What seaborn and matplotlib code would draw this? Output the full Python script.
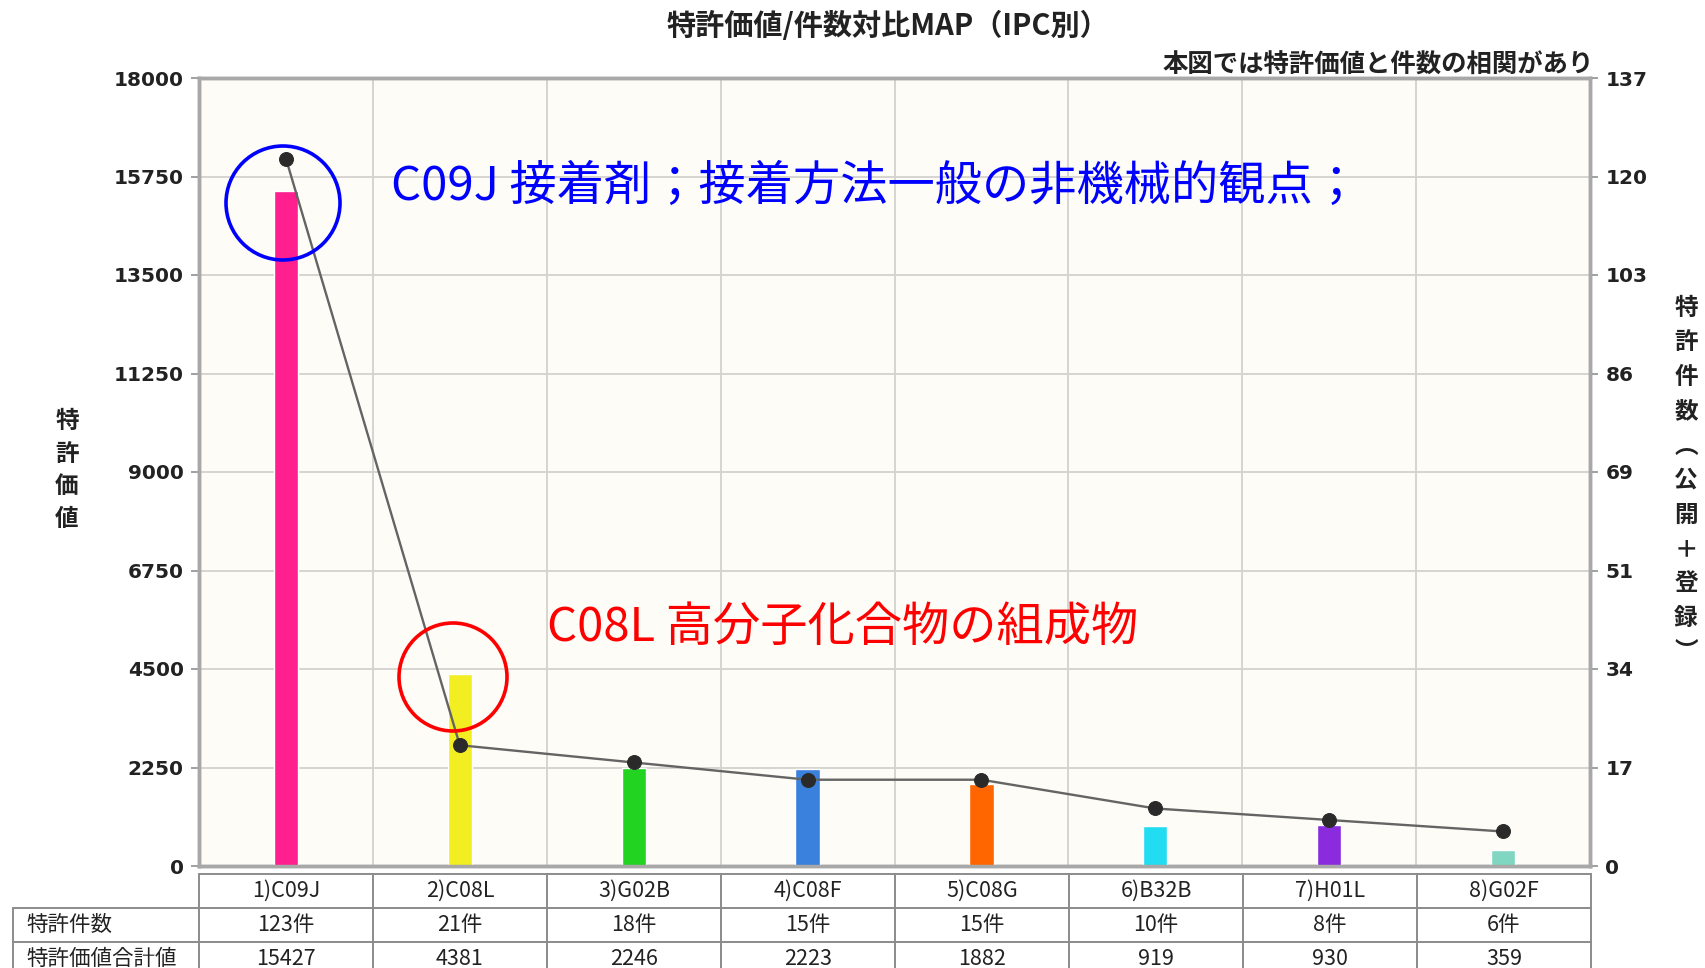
import numpy as np
import matplotlib.pyplot as plt
from matplotlib.patches import Ellipse
import seaborn as sns
import pandas as pd

# ----- DATA -----
codes = ["C09J", "C08L", "G02B", "C08F", "C08G", "B32B", "H01L", "G02F"]
col_labels = ["1)C09J", "2)C08L", "3)G02B", "4)C08F", "5)C08G", "6)B32B", "7)H01L", "8)G02F"]
patent_value = [15427, 4381, 2246, 2223, 1882, 919, 930, 359]
patent_count = [123, 21, 18, 15, 15, 10, 8, 6]
bar_colors = ["#FF1F8E", "#F2EE22", "#22D322", "#3A80DD", "#FF6600", "#22DDF2", "#8A2BDD", "#80D6C0"]
left_ticks = [0, 2250, 4500, 6750, 9000, 11250, 13500, 15750, 18000]
right_labels = ["0", "17", "34", "51", "69", "86", "103", "120", "137"]
right_max = 137

sns.set_theme(style="white")
plt.rcParams['font.family'] = ['Noto Sans CJK JP', 'DejaVu Sans']

W, H = 1705, 968
fig = plt.figure(figsize=(W / 100, H / 100), dpi=100)
fig.patch.set_facecolor("white")

# plot area in pixels: left 199, right 1590, top 78, bottom 866
ax = fig.add_axes([199 / W, 1 - 866 / H, (1590 - 199) / W, (866 - 78) / H])
ax.set_facecolor("#FDFCF7")

df = pd.DataFrame({"code": codes, "value": patent_value, "count": patent_count,
                   "pos": np.arange(len(codes))})

sns.barplot(data=df, x="code", y="value", hue="code", palette=bar_colors,
            width=0.14, saturation=1, legend=False, ax=ax, zorder=3)
ax.set_xlim(-0.5, len(codes) - 0.5)
ax.set_ylim(0, left_ticks[-1])
ax.set_yticks(left_ticks)
ax.set_xticks(np.arange(len(codes) - 1) + 0.5)
ax.set_xticklabels([])
ax.tick_params(axis="x", length=0)
ax.tick_params(axis="y", length=6, width=1.3, color="#999999", pad=5, labelsize=14.5, labelcolor="#222222")
for lbl in ax.get_yticklabels():
    lbl.set_fontfamily("DejaVu Sans")
    lbl.set_fontweight("bold")
ax.grid(True, color="#D6D4D0", lw=1.4)
ax.set_axisbelow(True)
ax.set_xlabel("")
ax.set_ylabel("")
for s in ax.spines.values():
    s.set_color("#A8A8A8")
    s.set_linewidth(2.5)

# ----- line on the right axis -----
ax2 = ax.twinx()
sns.lineplot(data=df, x="pos", y="count", ax=ax2, color="#646464", lw=1.7,
             marker="o", markersize=10, markerfacecolor="#2A2A2A", markeredgecolor="#2A2A2A", zorder=5)
ax2.set_xlim(-0.5, len(codes) - 0.5)
ax2.set_ylim(0, right_max)
ax2.set_yticks(np.linspace(0, right_max, len(right_labels)))
ax2.set_yticklabels(right_labels)
ax2.tick_params(axis="y", length=6, width=1.3, color="#999999", pad=5, labelsize=14.5, labelcolor="#222222")
for lbl in ax2.get_yticklabels():
    lbl.set_fontfamily("DejaVu Sans")
    lbl.set_fontweight("bold")
ax2.set_xlabel("")
ax2.set_ylabel("")
ax2.grid(False)
for s in ax2.spines.values():
    s.set_color("#A8A8A8")
    s.set_linewidth(2.5)

# ----- table under the chart -----
rows = [[""] + col_labels,
        ["特許件数"] + [f"{c}件" for c in patent_count],
        ["特許価値合計値"] + [str(v) for v in patent_value]]
lab_w, col_w = 186, 174
tab_w = lab_w + col_w * len(codes)
ax_w, ax_h = 1590 - 199, 866 - 78
row_h = 34
tab = ax.table(cellText=rows, colWidths=[lab_w / tab_w] + [col_w / tab_w] * len(codes),
               cellLoc="center",
               bbox=[(13 - 199) / ax_w, -(874 + 3 * row_h - 866) / ax_h, tab_w / ax_w, 3 * row_h / ax_h])
tab.auto_set_font_size(False)
for (r, c), cell in tab.get_celld().items():
    cell.set_edgecolor("#8C8C8C")
    cell.set_linewidth(1.4)
    cell.set_facecolor("white")
    cell.get_text().set_fontsize(15.5)
    cell.get_text().set_color("#222222")
    if c == 0:
        cell.get_text().set_horizontalalignment("left")
        cell.PAD = 0.07
    if r == 0 and c == 0:
        cell.visible_edges = ""

# ----- titles and axis labels -----
fig.text(888 / W, 1 - 26 / H, "特許価値/件数対比MAP（IPC別）", ha="center", va="center",
         fontsize=21, fontweight="bold", color="#222222")
fig.text(1594 / W, 1 - 65 / H, "本図では特許価値と件数の相関があり", ha="right", va="center",
         fontsize=18.3, fontweight="bold", color="#222222")
fig.text(67 / W, 1 - 470 / H, "\n".join("特許価値"), ha="center", va="center",
         fontsize=17, fontweight="bold", color="#222222", linespacing=1.45)
fig.text(1686 / W, 1 - 480 / H, "\n".join("特許件数︵公開＋登録︶"), ha="center", va="center",
         fontsize=17, fontweight="bold", color="#222222", linespacing=1.55)

# ----- annotations -----
fig.text(391 / W, 1 - 187 / H, "C09J 接着剤；接着方法一般の非機械的観点；", ha="left", va="center",
         fontsize=34, color="#0000FF")
fig.text(547 / W, 1 - 628 / H, "C08L 高分子化合物の組成物", ha="left", va="center",
         fontsize=34, color="#FF0000")
fig.patches.append(Ellipse((283 / W, 1 - 203 / H), 114 / W, 114 / H, transform=fig.transFigure,
                           fill=False, edgecolor="#0000FF", lw=2.6, zorder=10))
fig.patches.append(Ellipse((453 / W, 1 - 677 / H), 108 / W, 108 / H, transform=fig.transFigure,
                           fill=False, edgecolor="#FF0000", lw=2.6, zorder=10))

fig.savefig("out.png", dpi=100)
